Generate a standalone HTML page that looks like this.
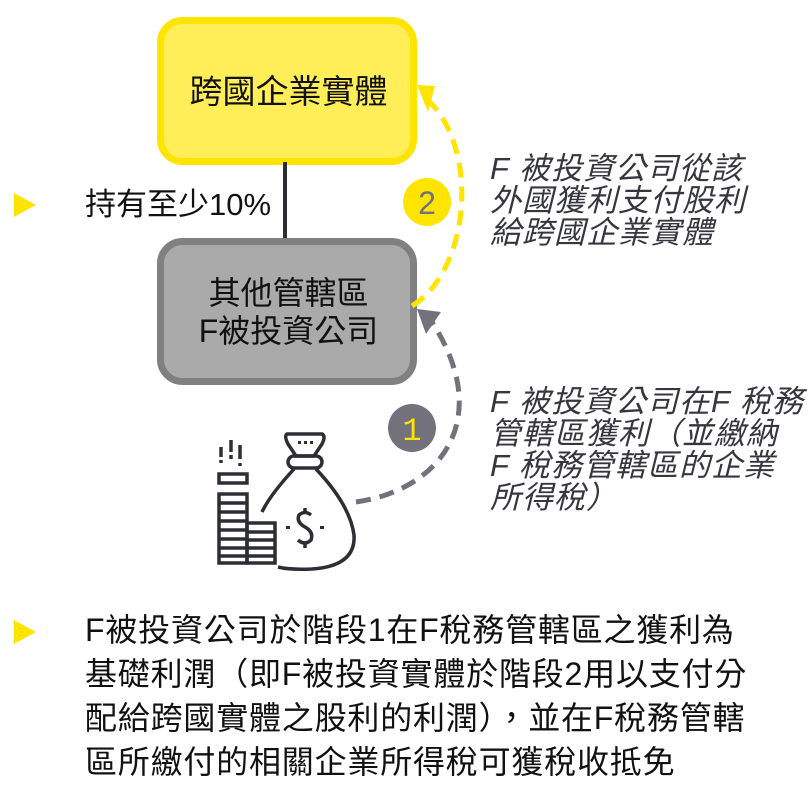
<!DOCTYPE html>
<html><head><meta charset="utf-8"><style>
html,body{margin:0;padding:0;background:#fff;}
body{width:808px;height:800px;position:relative;overflow:hidden;font-family:"Liberation Sans","Noto Sans CJK TC",sans-serif;}
.t{position:absolute;white-space:nowrap;color:#111;}
.it{position:absolute;white-space:nowrap;color:#363640;font-style:italic;font-size:31px;line-height:32px;letter-spacing:1px;}
</style></head><body>
<svg width="808" height="800" style="position:absolute;left:0;top:0">
<rect x="160.5" y="20.5" width="253" height="141" rx="22" fill="#FFEE58" stroke="#FFE400" stroke-width="7"/>
<line x1="285" y1="162" x2="285" y2="240" stroke="#2d2d35" stroke-width="4"/>
<rect x="160.5" y="241.5" width="253" height="140" rx="22" fill="#AAAAAA" stroke="#808080" stroke-width="7"/>
<path d="M412 306 C 470 270, 480 150, 428 100" fill="none" stroke="#FFE400" stroke-width="5" stroke-dasharray="15,9"/>
<polygon points="417,85 435,86 428,112" fill="#FFE400"/>
<path d="M356 502 C 440 490, 495 420, 432 322" fill="none" stroke="#72717C" stroke-width="5" stroke-dasharray="15,9"/>
<polygon points="417,309 441,312 426,334" fill="#72717C"/>
<circle cx="427" cy="202" r="24" fill="#FFE400"/>
<text x="427" y="214" text-anchor="middle" font-family="Liberation Sans" font-size="32" fill="#72717C">2</text>
<circle cx="412" cy="428" r="24" fill="#72717C"/>
<text x="412" y="440" text-anchor="middle" font-family="Liberation Mono" font-size="32" fill="#FFE400">1</text>
<polygon points="14,193 36,205 14,217" fill="#FFE400"/>
<polygon points="14,620 36,632 14,644" fill="#FFE400"/>
<g stroke="#2d2d35" stroke-width="3.5" fill="none">
<rect x="219" y="474" width="28" height="9"/>
<rect x="219" y="494" width="28" height="69"/>
<line x1="219" y1="503" x2="247" y2="503"/><line x1="219" y1="512" x2="247" y2="512"/>
<line x1="219" y1="521" x2="247" y2="521"/><line x1="219" y1="530" x2="247" y2="530"/>
<line x1="219" y1="539" x2="247" y2="539"/><line x1="219" y1="548" x2="247" y2="548"/>
<line x1="219" y1="556" x2="247" y2="556"/>
<rect x="247" y="523" width="28" height="40"/>
<line x1="247" y1="532" x2="275" y2="532"/><line x1="247" y1="540" x2="275" y2="540"/>
<line x1="247" y1="548" x2="275" y2="548"/><line x1="247" y1="556" x2="275" y2="556"/>
<line x1="231" y1="440" x2="231" y2="452"/><line x1="231" y1="455" x2="231" y2="459"/>
<line x1="221" y1="447" x2="221" y2="457"/><line x1="221" y1="460" x2="221" y2="463"/>
<line x1="240" y1="445" x2="240" y2="459"/><line x1="240" y1="463" x2="240" y2="466"/>
<path d="M287 434 L322 434 Q326 436 322 444 L314 456 L296 456 L288 444 Q284 436 287 434 Z"/>
<rect x="288" y="456" width="34" height="12" rx="6"/>
<path d="M294 469 Q270 495 262 512"/>
<path d="M316 469 Q350 505 354 535 Q356 566 312 569 Q290 570 278 567"/>
<path d="M311 515 Q305 510 299 515 Q296 522 305 527 Q314 532 311 540 Q305 546 298 540"/>
<line x1="305" y1="508" x2="305" y2="512"/><line x1="305" y1="544" x2="305" y2="548"/>
</g>
<g fill="#2d2d35"><rect x="298" y="441" width="3" height="3"/><rect x="304" y="441" width="3" height="3"/><rect x="310" y="441" width="3" height="3"/>
<rect x="286" y="526" width="4" height="3"/><rect x="320" y="526" width="4" height="3"/></g>
</svg>
<div class="t" style="left:157px;top:73px;width:263px;text-align:center;font-size:33px;line-height:38px;">跨國企業實體</div>
<div class="t" style="left:157px;top:274px;width:263px;text-align:center;font-size:32px;line-height:38px;">其他管轄區<br>F被投資公司</div>
<div class="t" style="left:85px;top:187px;font-size:31px;line-height:36px;">持有至少10%</div>
<div class="it" style="left:490px;top:153px;">F 被投資公司從該<br>外國獲利支付股利<br>給跨國企業實體</div>
<div class="it" style="left:490px;top:386px;">F 被投資公司在F 稅務<br>管轄區獲利（並繳納<br>F 稅務管轄區的企業<br>所得稅）</div>
<div class="t" style="left:85px;top:608px;font-size:32px;line-height:44px;letter-spacing:0.8px;">F被投資公司於階段1在F稅務管轄區之獲利為<br>基礎利潤（即F被投資實體於階段2用以支付分<br>配給跨國實體之股利的利潤），並在F稅務管轄<br>區所繳付的相關企業所得稅可獲稅收抵免</div>
</body></html>
